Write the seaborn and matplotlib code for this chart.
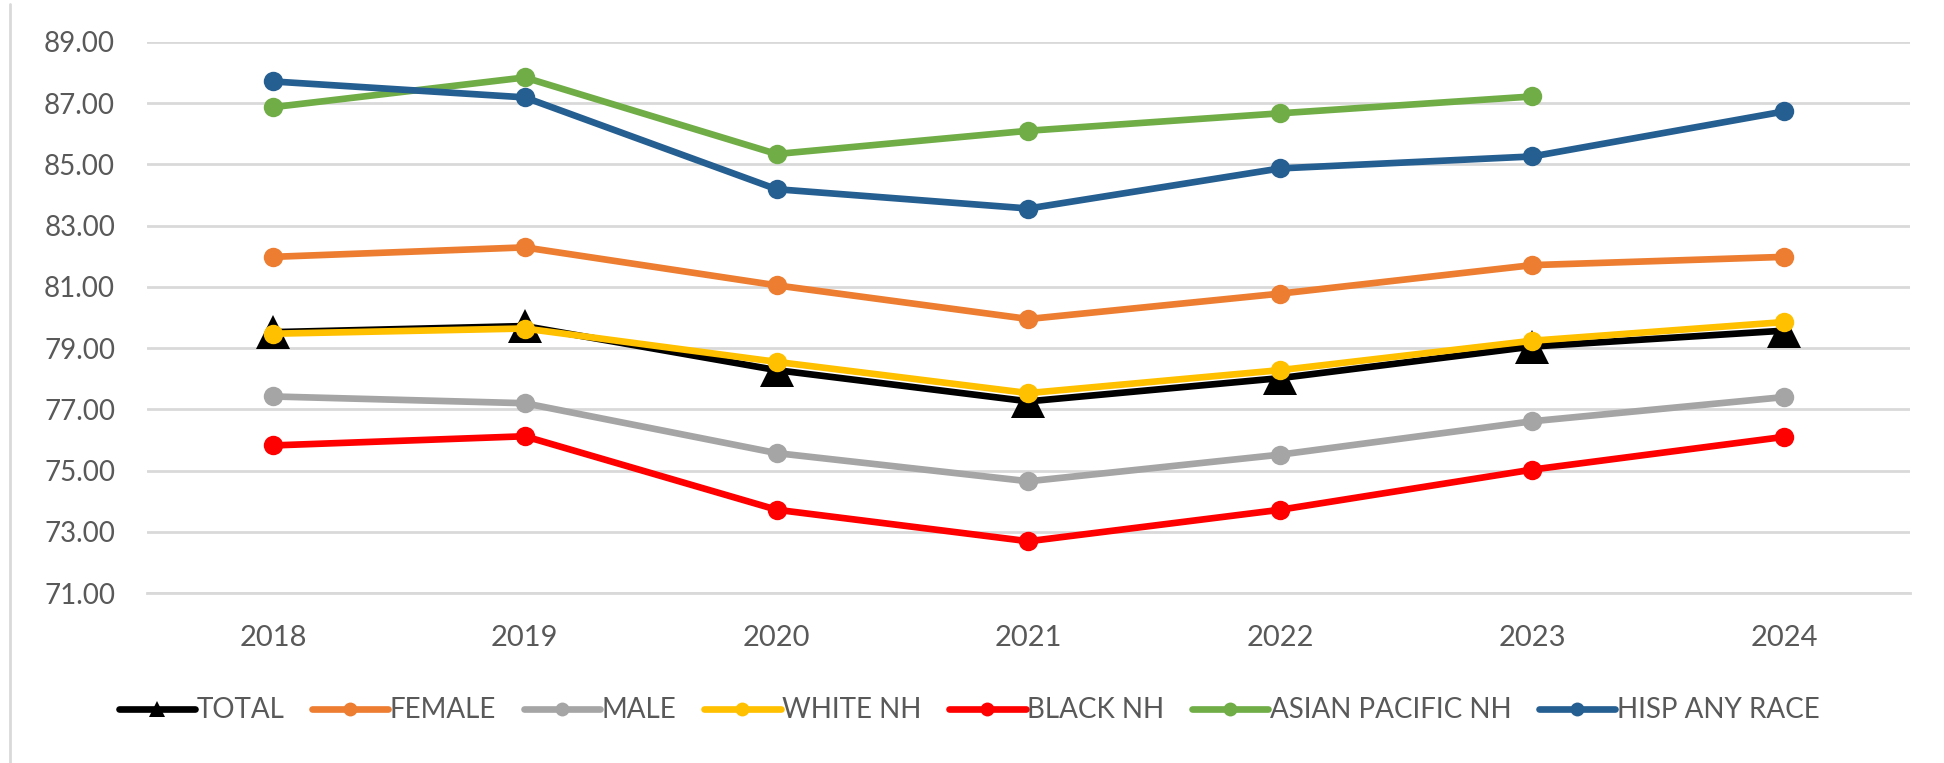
import matplotlib
matplotlib.use("Agg")
import matplotlib.pyplot as plt
from matplotlib.lines import Line2D
import numpy as np
import pandas as pd
import seaborn as sns

# Life expectancy by group, 2018-2024
years = [2018, 2019, 2020, 2021, 2022, 2023, 2024]
total = [79.52, 79.72, 78.28, 77.26, 78.02, 79.05, 79.57]
female = [81.98, 82.29, 81.05, 79.95, 80.78, 81.71, 81.98]
male = [77.42, 77.20, 75.57, 74.65, 75.52, 76.61, 77.40]
white_nh = [79.47, 79.64, 78.55, 77.53, 78.28, 79.24, 79.85]
black_nh = [75.82, 76.12, 73.72, 72.69, 73.72, 75.03, 76.10]
asian_pacific_nh = [86.87, 87.84, 85.34, 86.10, 86.67, 87.22, np.nan]
hisp_any_race = [87.71, 87.19, 84.19, 83.56, 84.87, 85.26, 86.73]

series_names = ["TOTAL", "FEMALE", "MALE", "WHITE NH", "BLACK NH",
                "ASIAN PACIFIC NH", "HISP ANY RACE"]
series_values = [total, female, male, white_nh, black_nh,
                 asian_pacific_nh, hisp_any_race]
colors = ["#000000", "#ED7D31", "#A5A5A5", "#FFC000", "#FF0000",
          "#70AD47", "#255E91"]
y_ticks = [71, 73, 75, 77, 79, 81, 83, 85, 87, 89]

df = pd.DataFrame({
    "year": np.tile(years, len(series_names)),
    "group": np.repeat(series_names, len(years)),
    "value": np.concatenate([np.asarray(v, dtype=float) for v in series_values]),
})

sns.set_theme(style="white")
plt.rcParams["font.family"] = ["Lato", "DejaVu Sans"]
text_color = "#595959"
grid_color = "#D9D9D9"

fig = plt.figure(figsize=(19.44, 7.63), dpi=100)
ax = fig.add_axes([0.0756, 0.2228, 0.9825 - 0.0756, 0.945 - 0.2228])

for name, color in zip(series_names, colors):
    sub = df[(df["group"] == name) & df["value"].notna()]
    is_total = name == "TOTAL"
    sns.lineplot(data=sub, x="year", y="value", ax=ax, color=color,
                 linewidth=4.8, marker="^" if is_total else "o",
                 markersize=25 if is_total else 14,
                 markeredgewidth=0, markerfacecolor=color,
                 legend=False, zorder=3)

ax.set_xlim(years[0] - 0.5, years[-1] + 0.5)
ax.set_ylim(y_ticks[0], y_ticks[-1])
ax.set_xticks(years)
ax.set_xticklabels([str(y) for y in years])
ax.set_yticks(y_ticks)
ax.set_yticklabels([f"{t:.2f}" for t in y_ticks])
ax.set_xlabel("")
ax.set_ylabel("")

ax.yaxis.grid(True, color=grid_color, linewidth=2.0, zorder=0)
ax.xaxis.grid(False)
for side in ["top", "right", "left"]:
    ax.spines[side].set_visible(False)
ax.spines["bottom"].set_color(grid_color)
ax.spines["bottom"].set_linewidth(2.0)
ax.tick_params(axis="x", length=0, labelsize=21, labelcolor=text_color, pad=23)
ax.tick_params(axis="y", length=0, labelsize=20, labelcolor=text_color, pad=23)

# Legend below the plot
handles = []
for name, color in zip(series_names, colors):
    is_total = name == "TOTAL"
    handles.append(Line2D([0], [0], color=color, linewidth=4.8,
                          marker="^" if is_total else "o",
                          markersize=12 if is_total else 10,
                          markeredgewidth=0))
leg = fig.legend(handles, series_names, loc="center", ncol=7,
                 bbox_to_anchor=(0.4985, 0.069), frameon=False,
                 fontsize=20, handlelength=2.75, handletextpad=0.05,
                 columnspacing=1.0)
for t in leg.get_texts():
    t.set_color(text_color)

# Chart border on the left edge
fig.add_artist(Line2D([10 / 1944, 10 / 1944], [0.0, 0.995],
                      color=grid_color, linewidth=2.0,
                      transform=fig.transFigure))

fig.savefig("out.png", dpi=100, facecolor="white")
